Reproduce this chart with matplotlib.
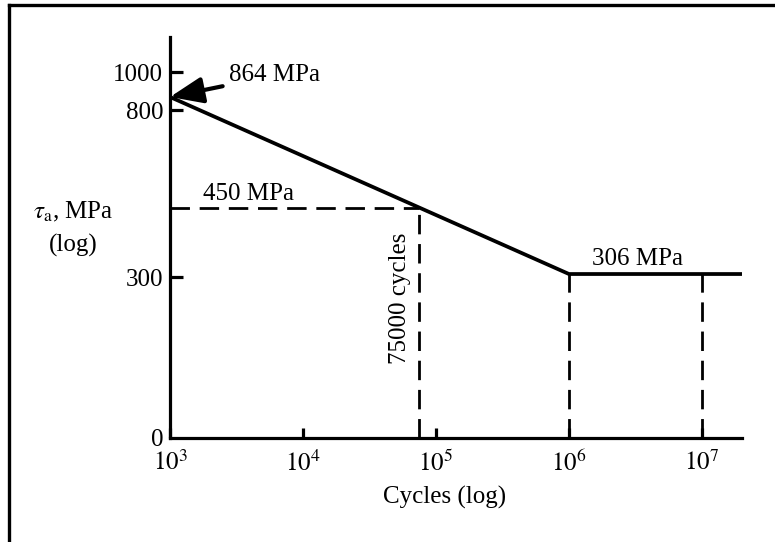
import matplotlib
matplotlib.use("Agg")
import matplotlib.pyplot as plt
from matplotlib.lines import Line2D

plt.rcParams['font.family'] = ['Liberation Serif', 'DejaVu Serif']
plt.rcParams['mathtext.fontset'] = 'stix'

# S-N curve data (shear stress amplitude vs. cycles)
sn_cycles = [1e3, 1e6, 2e7]
sn_stress = [864, 306, 306]

# point of interest on the sloped part
op_cycles = 75000
op_stress = 450

endurance_cycles = 1e6
endurance_stress = 306
check_cycles = 1e7

xtick_vals = [1e3, 1e4, 1e5, 1e6, 1e7]
xtick_labels = [r'$10^{3}$', r'$10^{4}$', r'$10^{5}$', r'$10^{6}$', r'$10^{7}$']
ytick_vals = [300, 800, 1000]
ytick_labels = ['300', '800', '1000']

FS = 18

fig = plt.figure(figsize=(7.75, 5.42), dpi=100)
ax = fig.add_axes([0.2194, 0.1919, 0.738, 0.7398])
ax.set_xscale('log')
ax.set_yscale('log')
ax.set_xlim(1e3, 2e7)
ax.set_ylim(117, 1228)

dash = dict(color='k', lw=2.0, dashes=(7, 3.5))

# main curve
ax.plot(sn_cycles, sn_stress, color='k', lw=2.7, solid_capstyle='butt')

# guide lines
ax.plot([1e3, op_cycles], [op_stress, op_stress], **dash)
ax.plot([op_cycles, op_cycles], [117, op_stress], **dash)
ax.plot([endurance_cycles, endurance_cycles], [117, endurance_stress], **dash)
ax.plot([check_cycles, check_cycles], [117, endurance_stress], **dash)

# axes styling
for side in ['top', 'right']:
    ax.spines[side].set_visible(False)
for side in ['left', 'bottom']:
    ax.spines[side].set_linewidth(2.3)

ax.minorticks_off()
ax.set_xticks(xtick_vals)
ax.set_xticklabels(xtick_labels)
ax.set_yticks(ytick_vals + [117])
ax.set_yticklabels(ytick_labels + ['0'])
ax.tick_params(axis='x', direction='in', length=7, width=2.3, pad=9, labelsize=FS)
ax.tick_params(axis='y', direction='in', length=9, width=2.3, pad=5, labelsize=FS)
ax.yaxis.get_major_ticks()[-1].tick1line.set_visible(False)

# annotations
ax.annotate('864 MPa', xy=(1e3, 864), xytext=(2.8e3, 980),
            ha='left', va='center', fontsize=FS,
            arrowprops=dict(arrowstyle='-|>,head_length=1.0,head_width=0.4',
                            color='k', lw=3, shrinkA=3, shrinkB=0,
                            mutation_scale=20))
ax.annotate('450 MPa', xy=(3.9e3, op_stress), xytext=(0, 2),
            textcoords='offset points', ha='center', va='bottom', fontsize=FS)
ax.annotate('306 MPa', xy=(3.3e6, endurance_stress), xytext=(0, 3),
            textcoords='offset points', ha='center', va='bottom', fontsize=FS)
ax.annotate('75000 cycles', xy=(op_cycles, 266), xytext=(-14, 0),
            textcoords='offset points', ha='center', va='center',
            rotation=90, fontsize=FS)

fig.text(0.094, 0.609, r'$\tau_\mathrm{a}$, MPa', ha='center', va='center', fontsize=FS)
fig.text(0.094, 0.548, '(log)', ha='center', va='center', fontsize=FS)
fig.text(445 / 775, 1 - 497 / 542, 'Cycles (log)', ha='center', va='center', fontsize=FS)

# border around the figure
fig.add_artist(Line2D([9 / 775, 9 / 775], [0, 1 - 5 / 542], color='k', lw=2.4))
fig.add_artist(Line2D([9 / 775, 1], [1 - 5 / 542, 1 - 5 / 542], color='k', lw=2.4))

fig.savefig('out.png', dpi=100)
